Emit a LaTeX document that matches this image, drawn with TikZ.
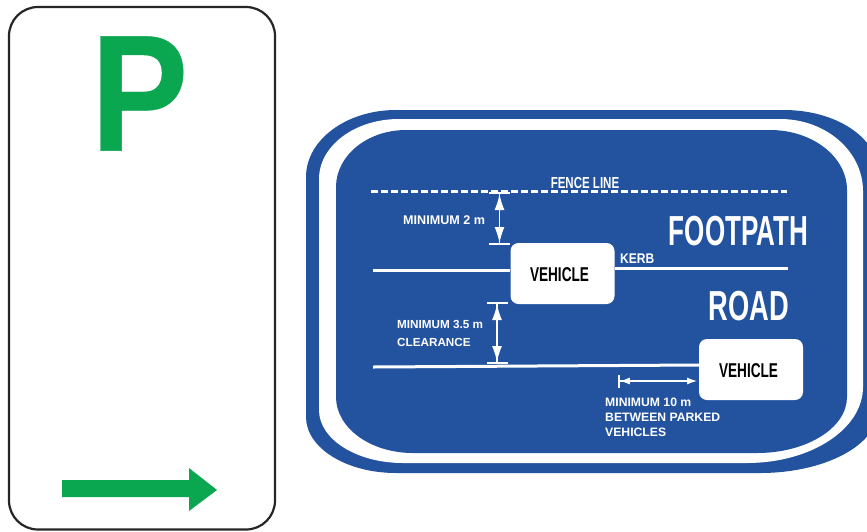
\documentclass[tikz,border=0pt]{standalone}
\usepackage{graphicx}
\usepackage{fontspec}
\setmainfont{Liberation Sans}
\newfontfamily\pfont[FakeBold=0.25]{Liberation Sans Bold}
\usetikzlibrary{arrows.meta}
\definecolor{signgreen}{HTML}{0BA650}
\definecolor{signblue}{HTML}{23539F}
\tikzset{
  lbl/.style={text=white,font=\bfseries\fontsize{12.6}{18}\selectfont,align=left,inner sep=0pt},
  big/.style={text=white,font=\bfseries\fontsize{42}{44}\selectfont,inner sep=0pt},
  veh/.style={fill=white,rounded corners=8pt,inner sep=0pt,minimum width=104pt,minimum height=61pt},
  vehtext/.style={inner sep=0pt,text=black,font=\bfseries\fontsize{20}{22}\selectfont},
  wline/.style={draw=white,line width=3pt},
  dim/.style={draw=white,line width=1.6pt,{Bar[width=21pt,line width=2pt]Latex[length=16pt,width=10pt]}-{Latex[length=16pt,width=10pt]Bar[width=21pt,line width=2pt]}},
}
\begin{document}
\begin{tikzpicture}[x=1pt,y=-1pt]
\useasboundingbox (0,0) rectangle (867,531);
\fill[white] (0,0) rectangle (867,531);
% parking sign
\draw[line width=2.2pt,rounded corners=29pt,black!85] (9,7) rectangle (275,529.5);
\node[text=signgreen,inner sep=0pt,font=\pfont\fontsize{166}{166}\selectfont] (p) at (139.5,93.5) {\scalebox{.88}[1]{P}};
\fill[signgreen] (62,480) -- (189,480) -- (189,468) -- (217,490) -- (189,511) -- (189,497) -- (62,497) -- cycle;
% information plate
\begin{scope}
\clip (0,0) rectangle (867,531);
\fill[signblue] (306,177) arc[start angle=180,end angle=270,x radius=90,y radius=67]
  -- (784,110) arc[start angle=270,end angle=360,x radius=94,y radius=62]
  -- (878,410) arc[start angle=0,end angle=90,x radius=118,y radius=63]
  -- (396,473) arc[start angle=90,end angle=180,x radius=90,y radius=56] -- cycle;
\fill[white] (319,179) arc[start angle=180,end angle=270,x radius=80,y radius=60]
  -- (780,119) arc[start angle=270,end angle=360,x radius=83,y radius=72]
  -- (863,387) arc[start angle=0,end angle=90,x radius=116,y radius=76]
  -- (403,463) arc[start angle=90,end angle=180,x radius=84,y radius=53] -- cycle;
\fill[signblue] (336,187) arc[start angle=180,end angle=270,x radius=70,y radius=57]
  -- (770,130) arc[start angle=270,end angle=360,x radius=77,y radius=60]
  -- (847,397) arc[start angle=0,end angle=90,x radius=90,y radius=56]
  -- (413,453) arc[start angle=90,end angle=180,x radius=77,y radius=56] -- cycle;
\end{scope}
% vehicles
\node[veh] (v1) at (562.5,273.5) {};
\node[veh] (v2) at (751,369.5) {};
\node[vehtext] (v1t) at (559.5,275) {\scalebox{.68}[1]{VEHICLE}};
\node[vehtext] (v2t) at (748.5,371) {\scalebox{.68}[1]{VEHICLE}};
\coordinate (kl) at (373,270);
\coordinate (kr) at (788,268);
\coordinate (cl) at (373,367);
\coordinate (cr) at (699,365);
\coordinate (fl) at (371,191);
\coordinate (fr) at (787,191);
% lines
\draw[draw=white,line width=3pt,dash pattern=on 7pt off 3pt] (fl) -- (fr);
\draw[wline] (kl) -- (v1.west |- kl);
\draw[wline] (v1.east |- kr) -- (kr);
\draw[wline] (cl) -- (cr);
% dimensions
\coordinate (d1a) at (499.5,192);
\coordinate (d1b) at (499.5,245);
\coordinate (d2a) at (497,302);
\coordinate (d2b) at (497,364);
\coordinate (d3a) at (618,381);
\coordinate (d3b) at (697,381);
\draw[dim] (d1a) -- (d1b);
\draw[dim] (d2a) -- (d2b);
\draw[draw=white,line width=1.2pt,{Bar[width=13pt,line width=1.8pt]Latex[length=10pt,width=7pt]}-{Latex[length=10pt,width=7pt]}] (d3a) -- (d3b);
% labels
\node[lbl,anchor=center,font=\bfseries\fontsize{16}{16}\selectfont] (fence) at (585,183) {\scalebox{.72}[1]{FENCE LINE}};
\node[lbl,anchor=west] (m2) at (403,220) {MINIMUM 2 m};
\node[lbl,anchor=west,font=\bfseries\fontsize{14}{14}\selectfont] (kerb) at (620,258.5) {\scalebox{.86}[1]{KERB}};
\node[lbl,anchor=west,font=\bfseries\fontsize{11.7}{18}\selectfont] (m35) at (397,333.5) {MINIMUM 3.5 m\\CLEARANCE};
\node[big,anchor=center] (fp) at (738.5,231) {\scalebox{.62}[1]{FOOTPATH}};
\node[big,anchor=center] (road) at (749,306) {\scalebox{.65}[1]{ROAD}};
\node[lbl,anchor=north west,font=\bfseries\fontsize{12.2}{15}\selectfont] (m10) at (605,398) {MINIMUM 10 m\\BETWEEN PARKED\\VEHICLES};
\end{tikzpicture}
\end{document}
